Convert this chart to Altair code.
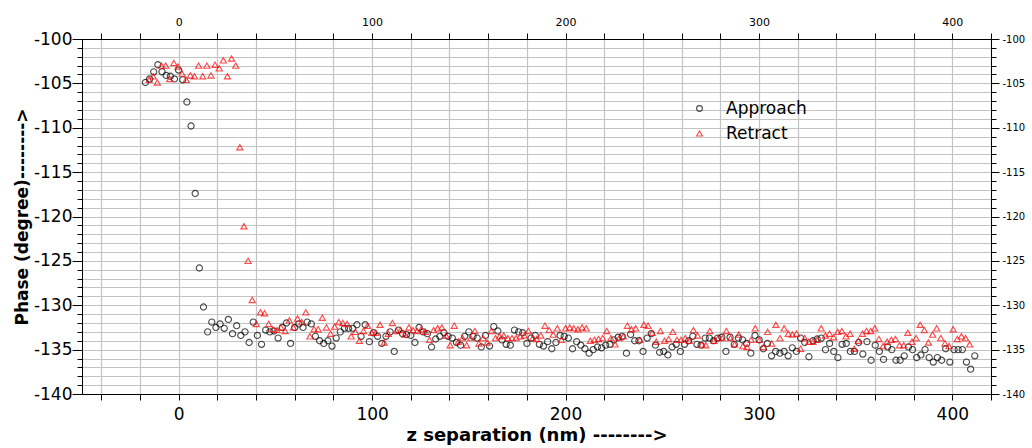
import altair as alt
import pandas as pd

# z-stage sampling: constant step between successive readings (nm)
APPROACH_Z0, APPROACH_DZ = -17.2, 2.144
RETRACT_Z0, RETRACT_DZ = -15.3, 2.132

approach_phase = [
    -104.9, -104.5, -103.7, -102.9, -103.7, -104.1, -104.2, -104.5, -103.5, -104.6,
    -107.1, -109.8, -117.4, -125.8, -130.2,
    -133.0, -131.9, -132.5, -132.1, -132.6, -131.6, -133.2, -132.3, -133.4, -133.0,
    -134.2, -131.9, -133.4, -134.4, -132.8, -133.0, -132.9, -133.7, -132.5, -132.0,
    -134.3, -132.5, -132.1, -132.5, -131.9, -132.1, -133.5, -134.0, -134.3, -134.0,
    -134.6, -133.7, -133.0, -132.6, -132.6, -132.6, -132.2, -133.5, -132.2, -134.1,
    -133.1, -133.5, -134.3, -133.5, -133.0, -135.2,
    -132.8, -133.2, -133.3, -133.4, -134.2, -132.5, -133.0, -133.2, -134.7, -133.8,
    -133.5, -133.1, -133.5, -133.7, -134.2, -134.5, -133.5, -133.0, -133.5, -133.7,
    -134.7, -133.4, -134.6, -132.4, -132.9, -133.9, -134.4, -134.5, -132.8, -133.0,
    -133.1, -134.3, -133.7, -133.4, -134.4, -134.6, -134.1, -134.9, -134.2, -133.4,
    -133.5, -133.7, -134.9, -134.1, -134.5, -134.9, -135.4, -135.0, -134.7, -134.8,
    -134.5, -134.4, -133.9, -133.6, -133.5, -135.4, -133.3, -134.0, -134.0, -135.2,
    -133.7, -133.2, -134.5, -135.3, -135.2, -135.6, -134.7, -134.4, -135.2, -134.4,
    -134.0, -133.5, -134.4, -134.5, -133.7, -133.7, -134.0, -133.7, -133.6, -135.2,
    -133.6, -134.4, -133.7, -133.9, -134.3, -135.4, -133.4, -133.9, -134.9, -134.3,
    -135.7, -135.2, -135.4, -135.2, -135.7, -134.8, -135.2, -133.7, -134.2, -135.8,
    -134.0, -133.8, -133.7, -135.0, -134.3, -135.2, -135.9, -134.4, -134.3, -135.2,
    -135.2, -134.2, -135.5, -134.1, -136.2, -134.5, -135.2, -136.1, -134.7, -135.0,
    -136.2, -136.2, -135.7, -134.7, -135.0, -135.9, -135.6, -135.0, -135.9, -136.4,
    -135.9, -136.2, -134.9, -136.4, -135.0, -135.0, -135.0, -136.4, -137.2, -135.7,
]

retract_phase = [
    -104.6, -104.2, -104.9, -103.0, -103.0, -104.5, -102.7, -103.1, -103.9, -104.6,
    -104.1, -104.2, -103.0, -104.2, -103.0, -104.1, -102.9, -103.3, -102.4, -104.2,
    -102.2, -103.0, -112.2, -121.1, -125.0, -129.4,
    -132.1, -130.8, -130.9, -132.1, -132.7, -132.8, -132.5, -132.9, -131.7, -132.5,
    -131.5, -131.9, -130.8, -133.5, -132.7, -132.7, -131.4, -132.5, -133.2, -132.4,
    -131.9, -132.0, -132.1, -133.5, -133.0, -134.0, -132.9, -132.3, -133.1, -133.1,
    -132.2, -134.2, -133.2, -132.0, -132.9,
    -132.8, -133.3, -132.5, -132.8, -132.9, -132.7, -133.0, -133.9, -132.8, -132.6,
    -132.5, -133.4, -134.5, -132.3, -134.1, -133.7, -134.5, -133.7, -132.9, -134.3,
    -133.7, -134.2, -132.9, -133.7, -133.5, -133.4, -133.7, -133.7, -133.7, -133.5,
    -133.4, -132.9, -133.7, -133.8, -133.4, -132.3, -132.8, -133.3, -132.6, -133.9,
    -132.6, -132.5, -132.6, -132.7, -132.5, -132.6, -134.0, -133.9, -133.8, -133.7,
    -132.9, -133.7, -134.4, -133.7, -133.5, -132.3, -132.7, -132.6, -133.9, -132.2,
    -132.3, -133.1, -134.1, -132.9, -134.0, -133.8, -133.0, -133.9, -133.9, -133.7,
    -134.0, -132.8, -133.4, -134.4, -134.5, -132.9, -134.0, -133.7, -133.7, -132.9,
    -133.7, -134.4, -133.3, -134.6, -134.7, -133.9, -132.6, -133.9, -134.7, -133.0,
    -134.3, -132.2, -133.7, -132.6, -133.2, -133.3, -133.2, -134.9, -133.7, -134.1,
    -134.1, -133.9, -132.6, -133.4, -133.2, -133.6, -133.0, -132.9, -133.5, -133.2,
    -134.9, -134.0, -133.2, -132.9, -132.9, -132.6, -133.8, -134.6, -134.1, -133.9,
    -133.8, -134.5, -134.5, -133.1, -134.1, -133.7, -132.2, -132.8, -134.2, -133.3,
    -132.6, -133.7, -134.3, -134.6, -132.7, -133.8, -133.5, -133.7, -134.4,
]

series_names = ["Approach", "Retract"]
series_colors = ["black", "red"]
series_shapes = ["circle", "triangle-up"]

x_domain = [-50, 420]
y_domain = [-140, -100]
x_tick_values = list(range(-40, 421, 20))
y_major_values = list(range(-140, -99, 5))
y_minor_values = list(range(-140, -99, 1))

rows = []
for i, v in enumerate(approach_phase):
    rows.append({"z": round(APPROACH_Z0 + APPROACH_DZ * i, 2), "phase": v, "series": "Approach"})
for i, v in enumerate(retract_phase):
    rows.append({"z": round(RETRACT_Z0 + RETRACT_DZ * i, 2), "phase": v, "series": "Retract"})
df = pd.DataFrame(rows)

FONT = "DejaVu Sans"
GRID = "#c4c4c4"
label_100 = "datum.value % 100 === 0 ? ('' + datum.value) : ''"
label_hyphen = "'' + datum.value"

x_scale = alt.Scale(domain=x_domain, nice=False, zero=False)
y_scale = alt.Scale(domain=y_domain, nice=False, zero=False)

bottom_axis = alt.Axis(
    orient="bottom", values=x_tick_values, labelExpr=label_100, labelFlush=False,
    labelOverlap=False, grid=True, gridColor=GRID, gridWidth=1.2, tickSize=6,
    tickColor="black", domainColor="black", labelFontSize=17, labelColor="black",
    labelFont=FONT, labelPadding=6, titleFont=FONT, titleFontSize=18,
    titleFontWeight="bold", titleColor="black", titlePadding=4,
)
left_major_axis = alt.Axis(
    orient="left", values=y_major_values, labelExpr=label_hyphen, grid=False,
    tickSize=10, tickColor="black", domainColor="black", labelFontSize=17,
    labelColor="black", labelFont=FONT, labelPadding=0, labelFlush=False,
    labelOverlap=False, titleFont=FONT, titleFontSize=17, titleFontWeight="bold",
    titleColor="black", titlePadding=2,
)
top_axis = alt.Axis(
    orient="top", values=x_tick_values, labelExpr=label_100, labelFlush=False,
    labelOverlap=False, grid=False, tickSize=6, tickColor="black", domainColor="black",
    labelFontSize=11, labelColor="black", labelFont=FONT, labelPadding=6, title=None,
)
right_major_axis = alt.Axis(
    orient="right", values=y_major_values, labelExpr=label_hyphen, grid=False,
    tickSize=8, tickColor="black", domainColor="black", labelFontSize=10,
    labelColor="black", labelFont=FONT, labelPadding=3, labelFlush=False,
    labelOverlap=False, title=None,
)
left_minor_axis = alt.Axis(
    orient="left", values=y_minor_values, labels=False, grid=True, gridColor=GRID,
    gridWidth=1.2, tickSize=5, tickColor="black", domainColor="black", title=None,
)
right_minor_axis = alt.Axis(
    orient="right", values=y_minor_values, labels=False, grid=False, tickSize=5,
    tickColor="black", domainColor="black", title=None,
)

legend = alt.Legend(
    title=None, orient="none", legendX=609, legendY=61, labelFontSize=17,
    labelFont=FONT, labelColor="black", symbolSize=34, symbolStrokeWidth=1.1,
    padding=0, rowPadding=7, labelOffset=18,
)

points = alt.Chart(df).mark_point(filled=False, size=38, strokeWidth=1.15).encode(
    x=alt.X("z:Q", scale=x_scale, axis=bottom_axis, title="z separation (nm) -------->"),
    y=alt.Y("phase:Q", scale=y_scale, axis=left_major_axis, title="Phase (degree)-------->"),
    color=alt.Color("series:N", scale=alt.Scale(domain=series_names, range=series_colors), legend=legend),
    shape=alt.Shape("series:N", scale=alt.Scale(domain=series_names, range=series_shapes), legend=legend),
)

top_right = alt.Chart(df).mark_point(opacity=0).encode(
    x=alt.X("z:Q", scale=x_scale, axis=top_axis),
    y=alt.Y("phase:Q", scale=y_scale, axis=right_major_axis),
)
left_minor = alt.Chart(df).mark_point(opacity=0).encode(
    y=alt.Y("phase:Q", scale=y_scale, axis=left_minor_axis),
)
right_minor = alt.Chart(df).mark_point(opacity=0).encode(
    y=alt.Y("phase:Q", scale=y_scale, axis=right_minor_axis),
)

chart = (
    alt.layer(left_minor, right_minor, top_right, points)
    .resolve_axis(x="independent", y="independent")
    .properties(
        width=909, height=355, autosize="none",
        padding={"left": 82, "top": 39, "right": 41, "bottom": 54},
        background="white",
    )
    .configure_view(strokeWidth=0)
)

chart.save("out.html", embed_options={"renderer": "svg", "actions": False})
